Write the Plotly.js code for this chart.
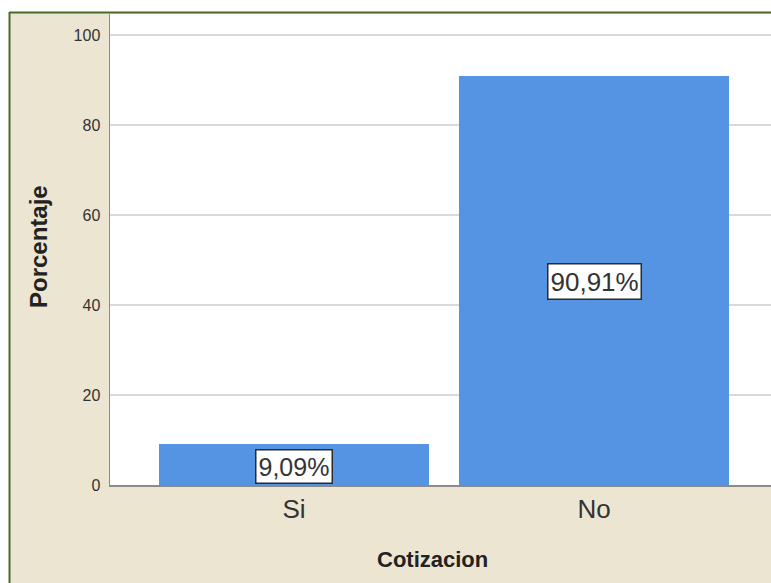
<!DOCTYPE html>
<html>
<head>
<meta charset="utf-8">
<script src="https://cdn.plot.ly/plotly-3.0.1.min.js"></script>
<style>html,body{margin:0;padding:0;background:#fff;}#chart{width:771px;height:583px;}</style>
</head>
<body>
<div id="chart"></div>
<script>
var categories = ["Si", "No"];
var values = [9.09, 90.91];
var yTicks = [0, 20, 40, 60, 80, 100];
var xTitle = "Cotizacion";
var yTitle = "Porcentaje";

var NARROW = 'Liberation Sans Narrow, Arial Narrow, Liberation Sans, Arial, sans-serif';
var REG = 'Liberation Sans, Arial, sans-serif';

var W = 771, H = 583, L = 110, T = 14, B = 98, R = 0;
var pw = W - L - R, ph = H - T - B;
function px(x){ return (x - L) / pw; }
function py(y){ return (H - B - y) / ph; }

var labels = values.map(function(v){ return v.toFixed(2).replace('.', ',') + '%'; });
var labelSizes = [25, 26];
var labelShift = [-2, -1];

var trace = {
  type: 'bar',
  x: categories,
  y: values,
  width: 0.9,
  marker: {color: '#5594e3', line: {width: 0}},
  hoverinfo: 'none'
};

var annotations = categories.map(function(c, i){
  return {
    x: c, y: values[i] / 2, xref: 'x', yref: 'y',
    text: labels[i], showarrow: false,
    font: {family: NARROW, size: labelSizes[i], color: '#333'},
    bgcolor: '#ffffff', bordercolor: '#2b2b2b', borderwidth: 1.5, borderpad: 2,
    yshift: labelShift[i]
  };
});
annotations.push({
  xref: 'paper', yref: 'paper', x: px(432), y: py(559), xanchor: 'center', yanchor: 'middle',
  text: xTitle, showarrow: false,
  font: {family: NARROW, size: 22, color: '#222', weight: 'bold'}
});
annotations.push({
  xref: 'paper', yref: 'paper', x: px(38), y: py(247), xanchor: 'center', yanchor: 'middle',
  text: yTitle, showarrow: false, textangle: -90,
  font: {family: REG, size: 24, color: '#222', weight: 'bold'}
});

var shapes = [
  {type:'rect', xref:'paper', yref:'paper', x0:px(0), x1:px(W), y0:py(0), y1:py(13), fillcolor:'#ffffff', line:{width:0}, layer:'below'},
  {type:'rect', xref:'paper', yref:'paper', x0:px(0), x1:px(9), y0:py(0), y1:py(H), fillcolor:'#ffffff', line:{width:0}, layer:'below'},
  {type:'line', xref:'paper', yref:'paper', x0:px(9.5), x1:px(9.5), y0:py(12), y1:py(H), line:{color:'#4a6a2a', width:2}},
  {type:'line', xref:'paper', yref:'paper', x0:px(9), x1:px(W), y0:py(12.5), y1:py(12.5), line:{color:'#4a6a2a', width:2}}
];

var layout = {
  width: W, height: H,
  margin: {l: L, r: R, t: T, b: B, pad: 0},
  paper_bgcolor: '#ece5d2',
  plot_bgcolor: '#ffffff',
  showlegend: false,
  font: {family: NARROW, color: '#333'},
  xaxis: {
    type: 'category',
    range: [-(294 - L) / 300, -(294 - L) / 300 + pw / 300],
    showgrid: false, zeroline: false,
    showline: true, linecolor: '#8a8a8a', linewidth: 1.5,
    ticks: '', 
    tickfont: {family: NARROW, size: 26, color: '#333'}
  },
  yaxis: {
    range: [0, ph / 4.5],
    tickvals: yTicks,
    ticktext: yTicks.map(String),
    showgrid: true, gridcolor: '#d9d9d9', gridwidth: 1.8,
    zeroline: false,
    showline: true, linecolor: '#8a8a8a', linewidth: 1.5,
    ticks: 'outside', ticklen: 5, tickcolor: 'rgba(0,0,0,0)',
    tickfont: {family: NARROW, size: 16, color: '#333'}
  },
  annotations: annotations,
  shapes: shapes
};

Plotly.newPlot('chart', [trace], layout, {displayModeBar: false, staticPlot: true});
</script>
</body>
</html>
